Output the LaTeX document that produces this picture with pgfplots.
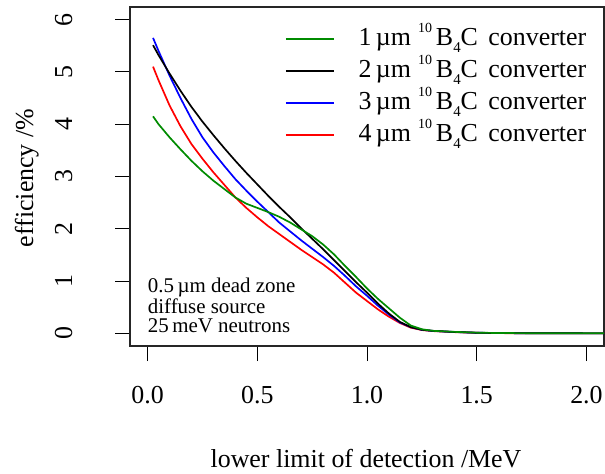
\documentclass[border=0pt]{standalone}
\usepackage{pgfplots}
\pgfplotsset{compat=1.18}
\usepackage{fontspec}
\setmainfont{Liberation Serif}
\definecolor{rgreen}{RGB}{0,139,0}
\newcommand{\sups}[1]{\raisebox{13.5bp}{\fontsize{14}{14}\selectfont #1}}
\newcommand{\subs}[1]{\raisebox{-7bp}{\fontsize{15}{15}\selectfont #1}}
\newcommand{\conv}[1]{#1\,µm\hspace{7bp}\sups{10}\hspace{4bp}B\subs{4}C\hspace{4bp} converter}
\pgfplotstableread{
x y
0.025 5.10
0.05 4.84
0.1 4.36
0.15 3.96
0.2 3.62
0.25 3.34
0.3 3.08
0.35 2.84
0.4 2.60
0.45 2.40
0.5 2.22
0.55 2.05
0.6 1.90
0.65 1.75
0.7 1.60
0.75 1.46
0.8 1.32
0.85 1.16
0.9 0.97
0.95 0.78
1.0 0.62
1.05 0.46
1.1 0.32
1.15 0.20
1.2 0.11
1.25 0.065
1.3 0.045
1.4 0.025
1.5 0.012
1.6 0.006
1.8 0.003
2.1 0.001
}\redtab
\pgfplotstableread{
x y
0.025 5.65
0.05 5.40
0.1 4.93
0.15 4.50
0.2 4.10
0.25 3.75
0.3 3.46
0.35 3.20
0.4 2.95
0.45 2.73
0.5 2.52
0.55 2.32
0.6 2.12
0.65 1.95
0.7 1.78
0.75 1.62
0.8 1.46
0.85 1.29
0.9 1.10
0.95 0.90
1.0 0.72
1.05 0.53
1.1 0.36
1.15 0.21
1.2 0.12
1.25 0.07
1.3 0.048
1.4 0.027
1.5 0.013
1.6 0.007
1.8 0.003
2.1 0.001
}\bluetab
\pgfplotstableread{
x y
0.025 5.51
0.05 5.32
0.1 4.97
0.15 4.64
0.2 4.33
0.25 4.05
0.3 3.79
0.35 3.54
0.4 3.30
0.45 3.07
0.5 2.85
0.55 2.63
0.6 2.42
0.65 2.22
0.7 2.01
0.75 1.81
0.8 1.61
0.85 1.40
0.9 1.19
0.95 0.98
1.0 0.78
1.05 0.57
1.1 0.38
1.15 0.22
1.2 0.12
1.25 0.07
1.3 0.05
1.4 0.028
1.5 0.014
1.6 0.007
1.8 0.003
2.1 0.001
}\blacktab
\pgfplotstableread{
x y
0.025 4.15
0.05 4.00
0.1 3.75
0.15 3.52
0.2 3.30
0.25 3.10
0.3 2.92
0.35 2.76
0.4 2.60
0.45 2.48
0.5 2.40
0.55 2.32
0.6 2.23
0.65 2.12
0.7 1.99
0.75 1.86
0.8 1.70
0.85 1.51
0.9 1.29
0.95 1.08
1.0 0.86
1.05 0.66
1.1 0.48
1.15 0.30
1.2 0.15
1.25 0.08
1.3 0.05
1.4 0.03
1.5 0.015
1.6 0.008
1.8 0.004
2.1 0.002
}\greentab
\begin{document}
\begin{tikzpicture}
\useasboundingbox (0,0) rectangle (605bp,474bp);
\begin{axis}[
  at={(130bp,128bp)}, anchor=south west,
  scale only axis, width=474bp, height=339bp,
  xmin=-0.08, xmax=2.08, ymin=-0.24, ymax=6.24,
  xtick={0,0.5,1,1.5,2}, xticklabels={0.0,0.5,1.0,1.5,2.0},
  ytick={0,1,2,3,4,5,6}, yticklabels={0,1,2,3,4,5,6},
  xtick pos=left, ytick pos=left,
  tick align=outside, major tick length=15bp,
  tick style={line width=1bp, black},
  axis line style={line width=1.2bp, black!85},
  ticklabel style={font=\fontsize{26}{26}\selectfont, inner sep=0pt},
  xticklabel style={anchor=base},
  xticklabel shift=42.5bp,
  yticklabel style={rotate=90, anchor=base},
  yticklabel shift=43bp,
  every axis plot/.append style={line width=1.7bp},
  reverse legend,
  legend cell align=left,
  legend image code/.code={\draw[#1] (0bp,7bp) -- (48bp,7bp); \path (0bp,0bp);},
  legend style={at={(axis description cs:0.327,0.944)}, anchor=north west,
    draw=none, fill=none, inner sep=0pt, outer sep=0pt, row sep=4bp,
    font=\fontsize{26}{26}\selectfont,
    nodes={inner sep=0pt, text height=20bp, text depth=8bp, anchor=base west},
    /tikz/every odd column/.append style={column sep=24bp}},
]
\addplot[red, no marks] table {\redtab};
\addlegendentry{\conv{4}}
\addplot[blue, no marks] table {\bluetab};
\addlegendentry{\conv{3}}
\addplot[black, no marks] table {\blacktab};
\addlegendentry{\conv{2}}
\addplot[rgreen, no marks] table {\greentab};
\addlegendentry{\conv{1}}
\end{axis}
\node[anchor=base, font=\fontsize{26}{26}\selectfont, inner sep=0pt] at (366bp,7bp) {lower limit of detection /MeV};
\node[anchor=base, rotate=90, font=\fontsize{26}{26}\selectfont, inner sep=0pt] at (33bp,296bp) {efficiency /\%};
\node[anchor=base west, font=\fontsize{21}{21}\selectfont, inner sep=0pt] at (147.7bp,181.3bp) {0.5\,µm dead zone};
\node[anchor=base west, font=\fontsize{21}{21}\selectfont, inner sep=0pt] at (147.7bp,160.7bp) {diffuse source};
\node[anchor=base west, font=\fontsize{21}{21}\selectfont, inner sep=0pt] at (147.7bp,141.3bp) {25\,meV neutrons};
\end{tikzpicture}
\end{document}
